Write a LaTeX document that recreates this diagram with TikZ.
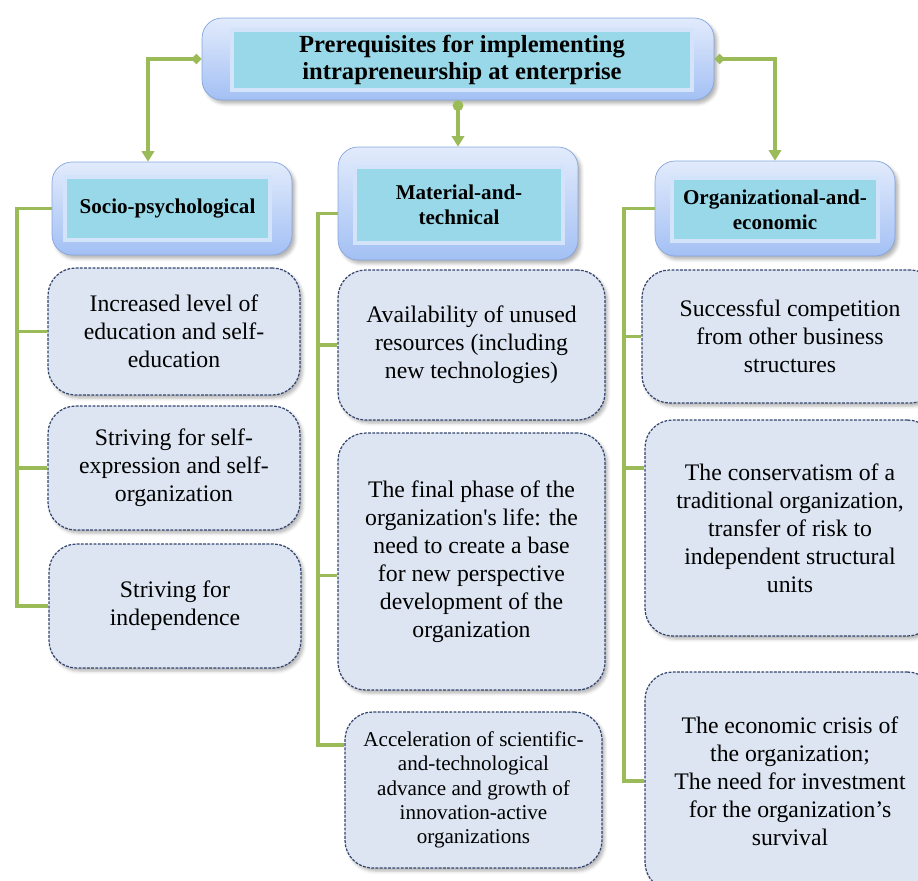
\documentclass[tikz,border=0pt]{standalone}
\usepackage{fontspec}
\setmainfont{Liberation Serif}
\usetikzlibrary{arrows.meta,shadows.blur}
\definecolor{linkgreen}{HTML}{9BBB59}
\definecolor{boxtop}{HTML}{E2EBFC}
\definecolor{boxbottom}{HTML}{A3C0F4}
\definecolor{boxedge}{HTML}{86A6DE}
\definecolor{headcyan}{HTML}{99D8E8}
\definecolor{headband}{HTML}{D3E3F9}
\definecolor{factorfill}{HTML}{DCE5F1}
\definecolor{factoredge}{HTML}{34466F}
\begin{document}
\begin{tikzpicture}[
            x=0.02cm, y=-0.02cm,
            outerbox/.style={rectangle, rounded corners=0.4cm, draw=boxedge, top color=boxtop, bottom color=boxbottom,
              inner sep=0pt, blur shadow={shadow xshift=0.06cm, shadow yshift=-0.07cm, shadow opacity=30}},
            innerbox/.style={rectangle, fill=headcyan, draw=headband, line width=2pt, inner sep=0pt, align=center,
              font=\fontsize{12}{14}\selectfont\bfseries},
            factor/.style={rectangle, rounded corners=0.55cm, draw=factoredge, line width=0.7pt,
              dash pattern=on 1.6pt off 0.8pt, fill=factorfill, align=center, inner sep=0pt,
              font=\fontsize{13.5}{16}\selectfont,
              blur shadow={shadow xshift=0.05cm, shadow yshift=-0.06cm, shadow opacity=30}},
            link/.style={draw=linkgreen, line width=2.2pt},
            sidelink/.style={link, {Diamond[length=6pt,width=6pt]}-{Triangle[length=6pt,width=7pt]}},
            midlink/.style={link, {Circle[length=6pt]}-{Triangle[length=6pt,width=7pt]}}
            ]
            \useasboundingbox (0,0) rectangle (918,880);
            \clip (0,0) rectangle (918,880);

            \node[outerbox, minimum width=10.24cm, minimum height=1.64cm] (top) at (458,59) {};
            \node[innerbox, minimum width=9.2cm, minimum height=1.2cm, font=\fontsize{14}{16.5}\selectfont\bfseries] (topin) at (462,60)
              {\raisebox{-2pt}{\shortstack{Prerequisites for implementing\\intrapreneurship at enterprise}}};

            \node[outerbox, minimum width=4.8cm, minimum height=1.86cm] (socio) at (172,208.5) {};
            \node[innerbox, minimum width=4.1cm, minimum height=1.26cm] (socioin) at (167.5,208.5) {Socio-psychological};
            \node[outerbox, minimum width=4.8cm, minimum height=2.26cm] (mat) at (458,203.5) {};
            \node[innerbox, minimum width=4.16cm, minimum height=1.52cm] (matin) at (459,205) {Material-and-\\technical};
            \node[outerbox, minimum width=4.8cm, minimum height=1.9cm] (org) at (775,208.5) {};
            \node[innerbox, minimum width=4.12cm, minimum height=1.26cm] (orgin) at (775,209.5) {Organizational-and-\\economic};

            \node[factor, minimum width=5.04cm, minimum height=2.54cm] (l1) at (174,331.5)
              {Increased level of\\education and self-\\education};
            \node[factor, minimum width=5.04cm, minimum height=2.48cm] (l2) at (174,468)
              {Striving for self-\\expression and self-\\organization};
            \node[factor, minimum width=5.04cm, minimum height=2.48cm] (l3) at (175,606)
              {Striving for\\independence};

            \node[factor, minimum width=5.34cm, minimum height=3.0cm] (m1) at (471.5,345)
              {Availability of unused\\resources (including\\new technologies)};
            \node[factor, minimum width=5.34cm, minimum height=5.14cm] (m2) at (471.5,561.5)
              {The final phase of the\\organization\textquotesingle s life: the\\need to create a base\\for new perspective\\development of the\\organization};
            \node[factor, minimum width=5.14cm, minimum height=3.12cm, font=\fontsize{12}{13.8}\selectfont] (m3) at (473.5,790)
              {Acceleration of scientific-\\and-technological\\advance and growth of\\innovation-active\\organizations};

            \node[factor, minimum width=5.92cm, minimum height=2.66cm] (r1) at (790,336.5)
              {Successful competition\\from other business\\structures};
            \node[factor, minimum width=5.8cm, minimum height=4.32cm] (r2) at (790,528)
              {The conservatism of a\\traditional organization,\\transfer of risk to\\independent structural\\units};
            \node[factor, minimum width=5.8cm, minimum height=4.36cm] (r3) at (790,781)
              {The economic crisis of\\the organization;\\The need for investment\\for the organization’s\\survival};

            \draw[sidelink] (top.west) -| ([xshift=-0.48cm]socio.north);
            \draw[midlink] (top.south) -- (mat.north);
            \draw[sidelink] (top.east) -| (org.north);

            \coordinate (sx) at (17,0);
            \coordinate (mx) at (318,0);
            \coordinate (rx) at (624,0);
            \coordinate (mj) at ([yshift=-0.2cm]mat.west);
            \coordinate (m2j) at ([yshift=-0.28cm]m2.west);
            \coordinate (m3j) at ([yshift=0.9cm]m3.west);
            \coordinate (r2j) at ([yshift=1.2cm]r2.west);

            \draw[link] (socio.west) -- (socio.west -| sx) |- (l3.west);
            \draw[link] (l1.west -| sx) -- (l1.west);
            \draw[link] (l2.west -| sx) -- (l2.west);

            \draw[link] (mj) -- (mj -| mx) |- (m3j);
            \draw[link] (m1.west -| mx) -- (m1.west);
            \draw[link] (m2j -| mx) -- (m2j);

            \draw[link] (org.west) -- (org.west -| rx) |- (r3.west);
            \draw[link] (r1.west -| rx) -- (r1.west);
            \draw[link] (r2j -| rx) -- (r2j);
        \end{tikzpicture}
\end{document}
